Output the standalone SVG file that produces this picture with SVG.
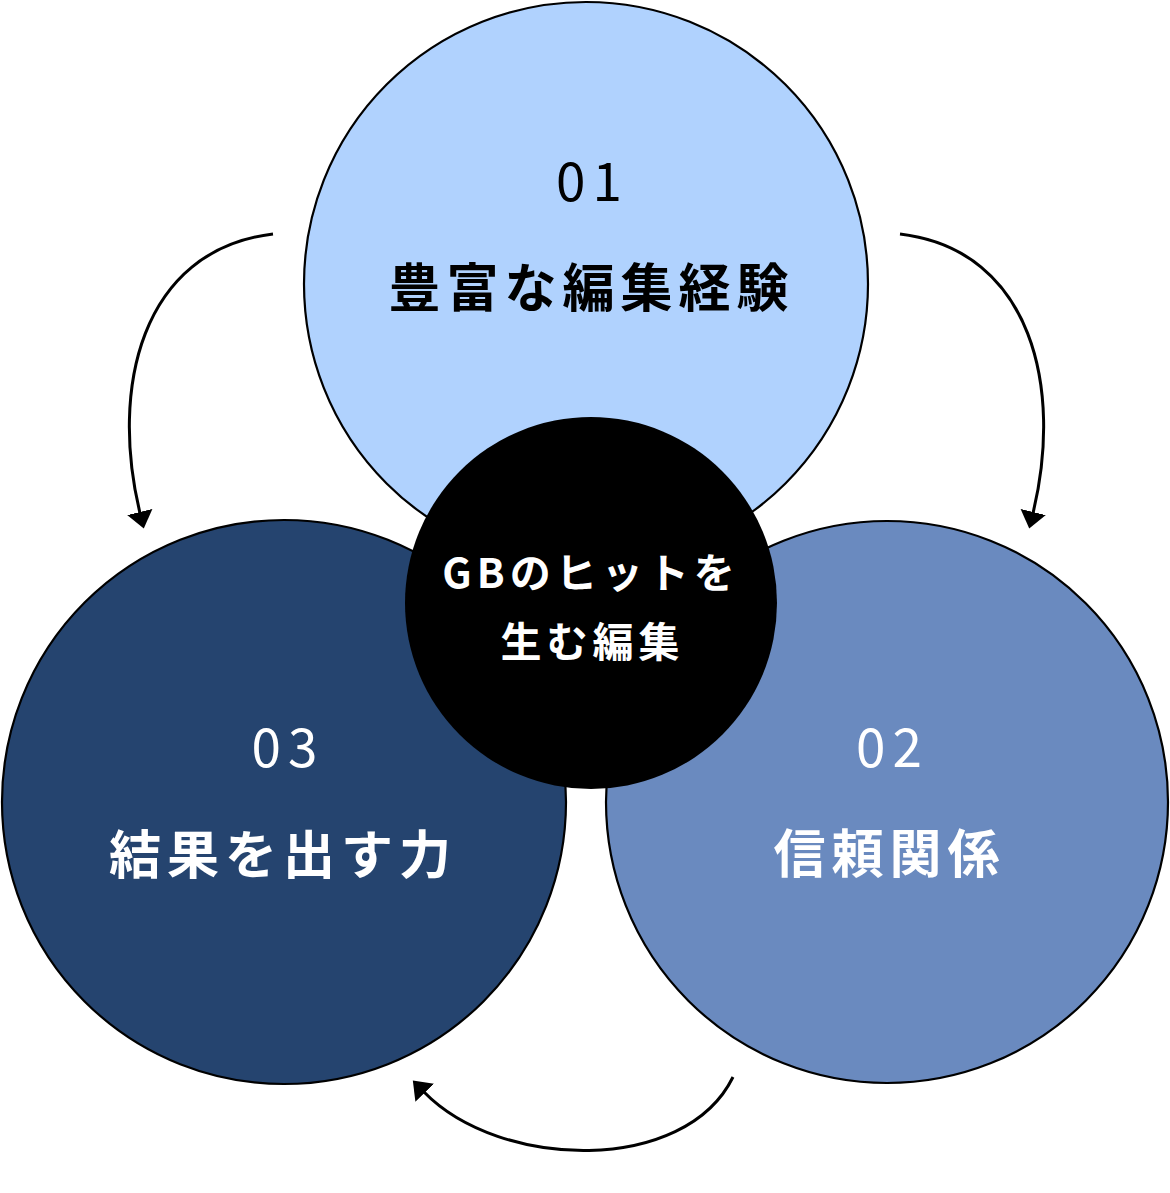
<svg xmlns="http://www.w3.org/2000/svg" width="1170" height="1193" viewBox="0 0 1170 1193">
<style>
.c{stroke:#000;stroke-width:2.2}
.num{font-family:"Noto Sans CJK JP","Noto Sans",sans-serif;font-size:53px;font-weight:400;letter-spacing:7px;text-anchor:middle}
.ttl{font-family:"Noto Sans CJK JP","Noto Sans",sans-serif;font-size:52px;font-weight:700;letter-spacing:6px;text-anchor:middle}
.ctr{font-family:"Noto Sans CJK JP","Noto Sans",sans-serif;font-size:41px;font-weight:700;letter-spacing:5px;text-anchor:middle;fill:#fff}
.w{fill:#fff}
.arc{fill:none;stroke:#000;stroke-width:3}
</style>
<defs>
<marker id="ah" markerUnits="userSpaceOnUse" markerWidth="20" markerHeight="28" refX="1" refY="13" orient="auto" viewBox="0 0 20 26">
<path d="M0,0 L17,13 L0,26 z" fill="#000"/>
</marker>
</defs>
<rect width="1170" height="1193" fill="#fff"/>
<g id="node-01">
<circle class="c" cx="586" cy="284" r="282" fill="#B0D2FE"/>
<text class="num" x="592.5" y="201" fill="#000">01</text>
<text class="ttl" x="591.5" y="307" fill="#000">豊富な編集経験</text>
</g>
<g id="node-03">
<circle class="c" cx="284" cy="802" r="282" fill="#25446F"/>
<text class="num w" x="288" y="767">03</text>
<text class="ttl w" x="283" y="874">結果を出す力</text>
</g>
<g id="node-02">
<circle class="c" cx="887" cy="802" r="281" fill="#6A8ABF"/>
<text class="num w" x="892.5" y="767">02</text>
<text class="ttl w" x="889.5" y="873">信頼関係</text>
</g>
<g id="node-center">
<circle cx="591" cy="603" r="186" fill="#000"/>
<text class="ctr" x="591" y="588">GBのヒットを</text>
<text class="ctr" x="592.5" y="657">生む編集</text>
</g>
<g id="connectors">
<path class="arc" d="M273,234 C140,250 110,390 140,513" marker-end="url(#ah)"/>
<path class="arc" d="M900,234 C1033,250 1063,390 1033,513" marker-end="url(#ah)"/>
<path class="arc" d="M733,1077 C685,1175 500,1170 424,1092" marker-end="url(#ah)"/>
</g>
</svg>
